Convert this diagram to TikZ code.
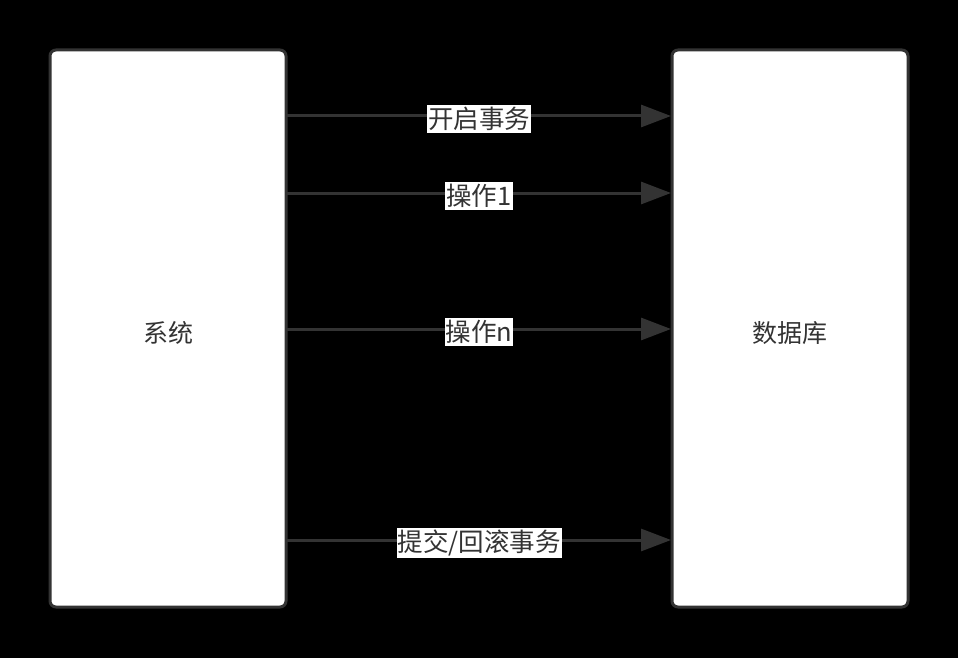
\documentclass[tikz,border=0pt]{standalone}
\usepackage{fontspec}
\newfontfamily\cjk{Noto Sans CJK SC}
\usetikzlibrary{arrows.meta}
\definecolor{edge}{HTML}{333333}
\tikzset{
  boxnode/.style={draw=edge, line width=3pt, fill=white, rounded corners=6pt, minimum width=236pt, minimum height=557pt, inner sep=0pt, font=\cjk\fontsize{25}{28}\selectfont, text=edge},
  boxtext/.style={font=\cjk\fontsize{25}{28}\selectfont, text=edge, inner sep=0pt},
  msg/.style={draw=edge, line width=3pt, -{Triangle[length=30pt,width=22pt]}},
  lbl/.style={fill=white, inner xsep=1pt, inner ysep=2pt, font=\cjk\fontsize{25.5}{28}\selectfont, text=edge}
}
\begin{document}
\begin{tikzpicture}[x=1pt,y=-1pt]
\fill[black] (0,0) rectangle (958,658);
\useasboundingbox (0,0) rectangle (958,658);
\node[boxnode] (sys) at (168,328.5) {};
\node[boxnode] (db) at (790,328.5) {};
\node[boxtext] (syst) at (168,333) {系统};
\node[boxtext] (dbt) at (790,333) {数据库};
\coordinate (sa) at (287,116); \coordinate (ea) at (671,116);
\coordinate (sb) at (287,193); \coordinate (eb) at (671,193);
\coordinate (sc) at (287,329); \coordinate (ec) at (671,329);
\coordinate (sd) at (287,540); \coordinate (ed) at (671,540);
\draw[msg] (sa) -- (ea) node[lbl, midway, yshift=-3pt] {开启事务};
\draw[msg] (sb) -- (eb) node[lbl, midway, yshift=-3pt] {操作1};
\draw[msg] (sc) -- (ec) node[lbl, midway, yshift=-3pt] {操作n};
\draw[msg] (sd) -- (ed) node[lbl, midway, yshift=-3pt] {提交/回滚事务};
\end{tikzpicture}
\end{document}
